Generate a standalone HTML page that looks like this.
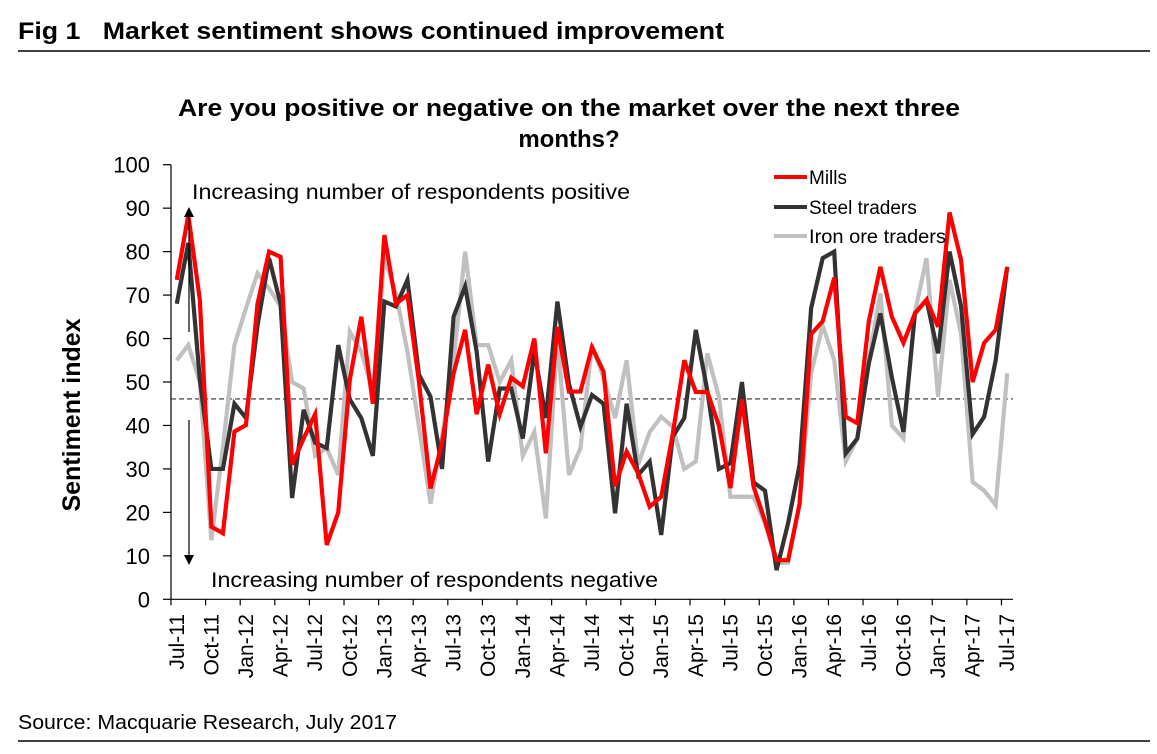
<!DOCTYPE html>
<html><head><meta charset="utf-8"><style>
body{margin:0;background:#fff;}
svg text{font-family:"Liberation Sans",Arial,sans-serif;}
</style></head><body>
<svg id="c" width="1157" height="749" xmlns="http://www.w3.org/2000/svg">
<text x="18" y="39" font-size="24" font-weight="bold" textLength="706" lengthAdjust="spacingAndGlyphs">Fig 1&#160;&#160;&#160;Market sentiment shows continued improvement</text>
<line x1="18" y1="51" x2="1150" y2="51" stroke="#000" stroke-width="1.5"/>
<text x="178" y="116" font-size="24" font-weight="bold" textLength="782" lengthAdjust="spacingAndGlyphs">Are you positive or negative on the market over the next three</text>
<text x="569" y="147" font-size="24" font-weight="bold" text-anchor="middle">months?</text>
<text transform="translate(80,415) rotate(-90)" font-size="25" font-weight="bold" text-anchor="middle">Sentiment index</text>
<g id="yt"></g>
<g id="xt"></g>
<g id="series"></g>
<text x="192" y="199" font-size="21" textLength="438" lengthAdjust="spacingAndGlyphs">Increasing number of respondents positive</text>
<text x="211" y="587" font-size="21" textLength="447" lengthAdjust="spacingAndGlyphs">Increasing number of respondents negative</text>
<line x1="189" y1="332" x2="189" y2="216" stroke="#000" stroke-width="1.2"/>
<polygon points="189,207 184,217 194,217" fill="#000"/>
<line x1="189" y1="420" x2="189" y2="556" stroke="#000" stroke-width="1.2"/>
<polygon points="189,565 184,555 194,555" fill="#000"/>
<g>
<line x1="774" y1="177" x2="807" y2="177" stroke="#ff0000" stroke-width="4"/>
<text x="809" y="184" font-size="19">Mills</text>
<line x1="774" y1="207" x2="807" y2="207" stroke="#333" stroke-width="4"/>
<text x="809" y="214" font-size="19">Steel traders</text>
<line x1="774" y1="236" x2="807" y2="236" stroke="#c0c0c0" stroke-width="4"/>
<text x="809" y="243" font-size="19" textLength="137" lengthAdjust="spacingAndGlyphs">Iron ore traders</text>
</g>
<text x="18" y="729" font-size="20" textLength="379" lengthAdjust="spacingAndGlyphs">Source: Macquarie Research, July 2017</text>
<line x1="18" y1="741" x2="1150" y2="741" stroke="#000" stroke-width="1.5"/>
</svg>
<script>
const months=["Jul-11","Oct-11","Jan-12","Apr-12","Jul-12","Oct-12","Jan-13","Apr-13","Jul-13","Oct-13","Jan-14","Apr-14","Jul-14","Oct-14","Jan-15","Apr-15","Jul-15","Oct-15","Jan-16","Apr-16","Jul-16","Oct-16","Jan-17","Apr-17","Jul-17"];
const yTicks=[0,10,20,30,40,50,60,70,80,90,100];
const mills=[73.5,88.4,68.9,16.7,15.2,38.6,40.1,68,80,78.8,31,37,42.6,12.5,20,50.5,65,45,83.8,68,70,50,25.5,36,52,62,42.6,54,42.6,51,49,60,33.6,62.7,47.8,47.8,58,52.4,26,34,29,21.3,23.6,38,55,47.7,47.7,40,25.6,46,26,18,9,9,22,61,64,74,42,40.5,64,76.5,65,59,65.8,68.9,62.7,89,78,50,59,62,76.5];
const steel=[68,82,50.5,30,30,45,41.7,63,78.5,68,23.3,43.6,36,34.8,58.5,46,41.7,33,68.5,67.4,73.5,51.7,46.6,30,65,72,57,31.7,48.5,48.5,37,57,41.7,68.5,49.6,39.7,47,45,19.8,45,28.6,31.7,14.8,37.4,41.7,62,48,30,31.3,50,26.9,25,6.7,17.5,31,67,78.5,80,33.6,37,54.3,65.8,51,38.5,65.8,68.9,56.6,80,67.4,38,42,55,76.5];
const iron=[55,58.5,50,13.6,35,58.5,67,75,71.5,67.4,50,48.5,33,34.8,28.6,61.6,57,47.7,78.5,70.4,57,39.7,22,37.4,55,80,58.5,58.5,50,55,33,38.5,18.6,60,28.6,34.8,58.5,51,41.7,55,31,38.5,42,39.7,30,31.7,56.6,46.6,23.6,23.6,23.6,17.5,8.4,8.4,22,52,63,55,31.7,37,55,70.4,40,37,66,78.5,46.6,73.5,61,27,25,21.7,52];
const threshold=46.1;
const NS="http://www.w3.org/2000/svg";
const X0=171,X1=1013,Y0=599.3,Y1=164.7,N=mills.length;
const bw=(X1-X0)/N;
const xs=i=>X0+bw*(i+0.5);
const ys=v=>Y0-(v/100)*(Y0-Y1);
function mk(t,a,p){const e=document.createElementNS(NS,t);for(const k in a)e.setAttribute(k,a[k]);p.appendChild(e);return e;}
const yt=document.getElementById('yt'),xt=document.getElementById('xt'),sg=document.getElementById('series');
const ya=mk('line',{x1:X0,y1:Y1,x2:X0,y2:Y0,stroke:'#000','stroke-width':1.2},yt);


yTicks.forEach(v=>{
 const l=mk('line',{x1:X0-8,y1:ys(v),x2:X0,y2:ys(v),stroke:'#000','stroke-width':1.2},yt);
 
 
 const t=mk('text',{x:150,y:ys(v)+8,'font-size':22,'text-anchor':'end'},yt);
 
 
 t.textContent=v;
});
const xa=mk('line',{x1:X0,y1:Y0,x2:X1,y2:Y0,stroke:'#000','stroke-width':1.2},xt);


for(let i=0;i<=N;i+=3){
 const x=X0+bw*i;
 const l=mk('line',{x1:x,y1:Y0,x2:x,y2:Y0+6,stroke:'#000','stroke-width':1.2},xt);
 
 
}
months.forEach((m,k)=>{
 const x=xs(k*3);
 const t=mk('text',{transform:`translate(${x+7},614) rotate(-90)`,'font-size':21,'text-anchor':'end'},xt);
 
 
 t.textContent=m;
});
const th=mk('line',{x1:X0,y1:ys(threshold),x2:X1,y2:ys(threshold),stroke:'#333','stroke-width':1.2,'stroke-dasharray':'5,3'},sg);


[[iron,'#c0c0c0','iron-ore-traders-line'],[steel,'#333333','steel-traders-line'],[mills,'#ff0000','mills-line']].forEach(([d,c,n])=>{
 const p=mk('polyline',{points:d.map((v,i)=>xs(i)+','+ys(v)).join(' '),fill:'none',stroke:c,'stroke-width':4.2,'stroke-linejoin':'miter'},sg);
 
 
});
</script>
</body></html>
